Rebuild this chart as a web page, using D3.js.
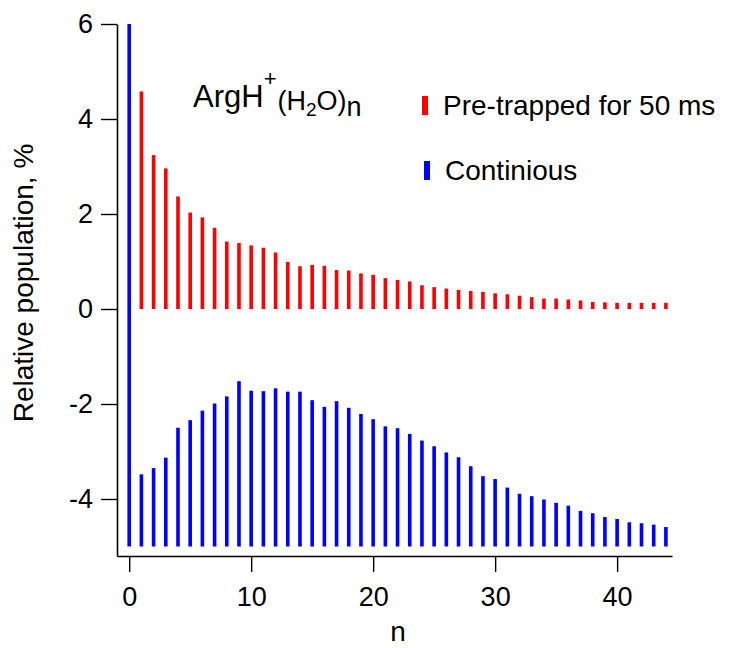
<!DOCTYPE html>
<html>
<head>
<meta charset="utf-8">
<script src="https://cdn.jsdelivr.net/npm/d3@7"></script>
<style>
body { margin: 0; background: #fff; }
text { font-family: "Liberation Sans", Arial, sans-serif; }
</style>
</head>
<body>
<svg width="729" height="648"></svg>
<script>
// n = 0 .. 44
var nValues = d3.range(0, 45);

// pre-trapped for 50 ms (red), baseline 0; n = 0 hidden behind the blue bar
var pretrapped = [null, 4.58, 3.24, 2.96, 2.37, 2.03, 1.93, 1.71, 1.42, 1.39, 1.34,
    1.29, 1.19, 0.99, 0.90, 0.93, 0.91, 0.82, 0.81, 0.75, 0.72,
    0.65, 0.61, 0.58, 0.50, 0.46, 0.43, 0.40, 0.38, 0.36, 0.33,
    0.31, 0.28, 0.25, 0.22, 0.22, 0.20, 0.18, 0.15, 0.14, 0.13,
    0.13, 0.13, 0.13, 0.13];

// continuous (blue), drawn with an offset baseline of -5
var continuous = [6.0, -3.48, -3.35, -3.13, -2.50, -2.34, -2.14, -1.99, -1.84, -1.52, -1.72,
    -1.73, -1.67, -1.74, -1.74, -1.92, -2.06, -1.94, -2.08, -2.21, -2.32,
    -2.47, -2.51, -2.63, -2.77, -2.89, -3.02, -3.12, -3.31, -3.52, -3.58,
    -3.76, -3.89, -3.94, -4.01, -4.08, -4.14, -4.25, -4.30, -4.38, -4.42,
    -4.49, -4.51, -4.54, -4.59];

var yTicks = [-4, -2, 0, 2, 4, 6];
var xTicks = [0, 10, 20, 30, 40];
var blueBase = -5;

var svg = d3.select("svg");

var xScale = d3.scaleLinear().domain([-1, 44.5]).range([117, 672]);
var yScale = d3.scaleLinear().domain([-5.2, 6]).range([556, 24]);

var barW = 3.6;

var drawBars = function(values, base, color)
{
    svg.append("g")
        .selectAll("rect")
        .data(values.map(function(v, i){ return {n: nValues[i], v: v}; })
              .filter(function(d){ return d.v != null; }))
        .enter()
        .append("rect")
        .attr("x", function(d){ return xScale(d.n) - barW / 2; })
        .attr("width", barW)
        .attr("y", function(d){ return yScale(Math.max(d.v, base)); })
        .attr("height", function(d){ return Math.abs(yScale(d.v) - yScale(base)); })
        .attr("fill", color);
}

drawBars(pretrapped, 0, "#ff0000");
drawBars(continuous, blueBase, "#0000ff");

// axes
var yAxis = svg.append("g")
    .attr("transform", "translate(117,0)")
    .call(d3.axisLeft(yScale).tickValues(yTicks).tickSize(16).tickPadding(8).tickSizeOuter(0));

var xAxis = svg.append("g")
    .attr("transform", "translate(0,556)")
    .call(d3.axisBottom(xScale).tickValues(xTicks).tickSize(16).tickPadding(15).tickSizeOuter(0));

[yAxis, xAxis].forEach(function(a)
{
    a.select(".domain").attr("stroke", "#000").attr("stroke-width", 1.6);
    a.selectAll(".tick line").attr("stroke", "#000").attr("stroke-width", 1.4);
    a.selectAll(".tick text")
        .attr("fill", "#000")
        .style("font-size", "27px")
        .style("font-family", "'Liberation Sans', Arial, sans-serif");
});
yAxis.selectAll(".tick text").text(function(d){ return String(d); });

// axis titles
svg.append("text")
    .attr("transform", "translate(33,283) rotate(-90)")
    .attr("text-anchor", "middle")
    .style("font-size", "28px")
    .text("Relative population, %");

svg.append("text")
    .attr("x", 398)
    .attr("y", 641)
    .attr("text-anchor", "middle")
    .style("font-size", "28px")
    .text("n");

// species label ArgH+(H2O)n
var title = svg.append("text")
    .attr("x", 193)
    .attr("y", 107)
    .style("font-size", "31px");
title.append("tspan").text("ArgH");
title.append("tspan").attr("dy", -21).style("font-size", "22px").text("+");
title.append("tspan").attr("dx", 1).attr("dy", 24).style("font-size", "27px").text("(H");
title.append("tspan").attr("dy", 6).style("font-size", "19px").text("2");
title.append("tspan").attr("dy", -6).style("font-size", "27px").text("O)");
title.append("tspan").attr("dy", 6).style("font-size", "27px").text("n");

// legend
var legendItems = [
    {label: "Pre-trapped for 50 ms", color: "#ff0000", x: 422, y: 96},
    {label: "Continious", color: "#0000ff", x: 424, y: 161}
];

var legend = svg.append("g")
    .selectAll("g")
    .data(legendItems)
    .enter()
    .append("g");

legend.append("rect")
    .attr("x", function(d){ return d.x; })
    .attr("y", function(d){ return d.y; })
    .attr("width", 6)
    .attr("height", 19)
    .attr("fill", function(d){ return d.color; });

legend.append("text")
    .attr("x", function(d){ return d.x + 21; })
    .attr("y", function(d){ return d.y + 19; })
    .style("font-size", "28px")
    .text(function(d){ return d.label; });
</script>
</body>
</html>
